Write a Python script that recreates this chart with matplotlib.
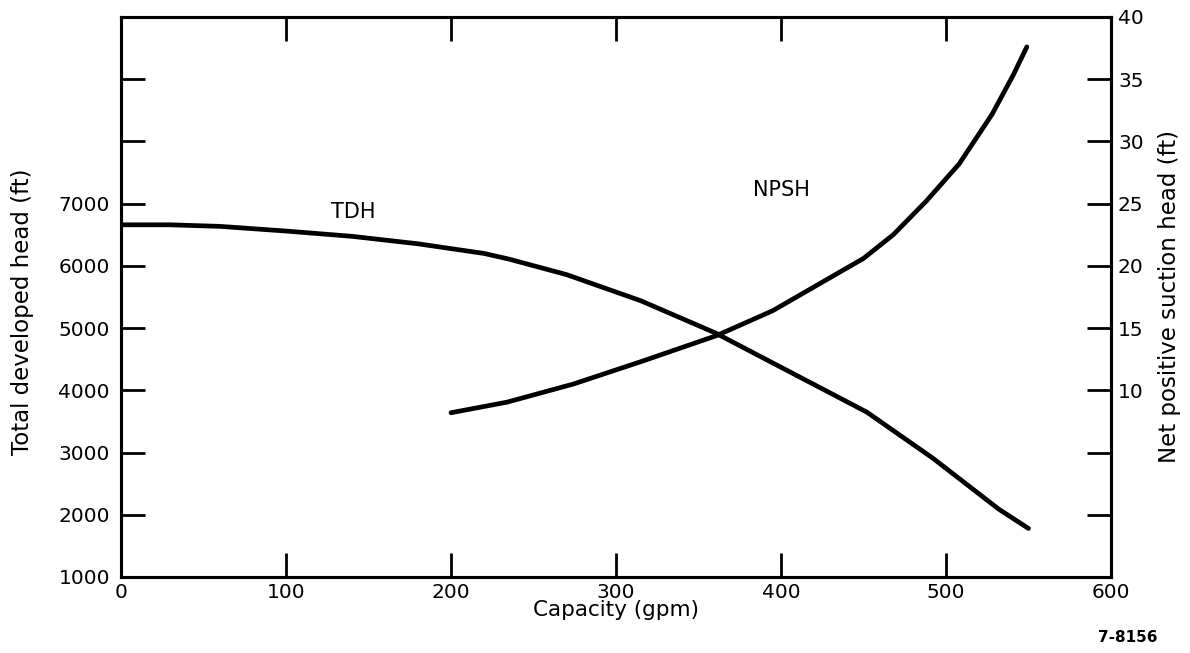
import matplotlib.pyplot as plt

plt.rcParams['font.family'] = ['DejaVu Sans']

# TDH curve (left axis, ft)
tdh_cap = [0, 30, 60, 100, 140, 180, 220, 235, 270, 315, 360, 395, 452, 492, 532, 550]
tdh_val = [6660, 6660, 6635, 6560, 6475, 6355, 6200, 6110, 5860, 5440, 4925, 4440, 3650, 2910, 2090, 1780]

# NPSH curve (right axis, ft)
npsh_cap = [200, 234, 274, 315, 361, 395, 450, 468, 488, 508, 528, 541, 549]
npsh_val = [8.2, 9.05, 10.5, 12.3, 14.4, 16.4, 20.6, 22.5, 25.2, 28.2, 32.2, 35.4, 37.6]

x_ticks = [0, 100, 200, 300, 400, 500, 600]
left_ticks = [1000, 2000, 3000, 4000, 5000, 6000, 7000, 8000, 9000]
left_labels = ["1000", "2000", "3000", "4000", "5000", "6000", "7000", "", ""]
right_ticks = [0, 5, 10, 15, 20, 25, 30, 35, 40]
right_labels = ["", "", "10", "15", "20", "25", "30", "35", "40"]

fig = plt.figure(figsize=(11.9, 6.53), dpi=100)
ax = fig.add_axes([121/1190, 76/653, 990/1190, 560/653])
ax2 = ax.twinx()

ax.plot(tdh_cap, tdh_val, color="black", lw=3.4, solid_capstyle="round")
ax2.plot(npsh_cap, npsh_val, color="black", lw=3.4, solid_capstyle="round")

ax.set_xlim(0, 600)
ax.set_ylim(1000, 10000)
ax2.set_ylim(-5, 40)

ax.set_xticks(x_ticks)
ax.set_yticks(left_ticks)
ax.set_yticklabels(left_labels)
ax2.set_yticks(right_ticks)
ax2.set_yticklabels(right_labels)

ax.tick_params(axis="both", direction="in", length=17, width=2, labelsize=14.5)
ax.tick_params(axis="x", top=True, pad=4)
ax.tick_params(axis="y", pad=8)
ax2.tick_params(axis="y", direction="in", length=17, width=2, labelsize=14.5, pad=5)

for a in (ax, ax2):
    for s in a.spines.values():
        s.set_linewidth(2.2)

ax.set_xlabel("Capacity (gpm)", fontsize=15.5, labelpad=-1)
ax.set_ylabel("Total developed head (ft)", fontsize=16.5)
ax.yaxis.set_label_coords(-0.088, 0.473)
ax2.set_ylabel("Net positive suction head (ft)", fontsize=16.5)
ax2.yaxis.set_label_coords(1.047, 0.5)

ax.text(141, 6870, "TDH", fontsize=15, ha="center", va="center")
ax.text(400, 7220, "NPSH", fontsize=15, ha="center", va="center")

fig.text(1128/1190, 1 - 638/653, "7-8156", fontsize=11, fontweight="bold",
         ha="center", va="center")

plt.savefig("out.png", dpi=100)
